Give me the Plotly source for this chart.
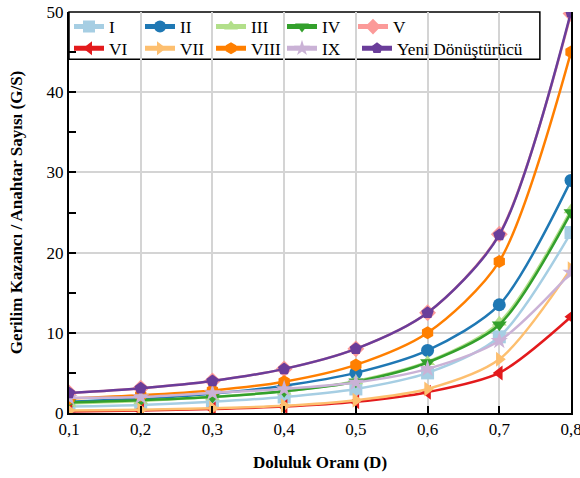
import plotly.graph_objects as go

D = [0.1, 0.2, 0.3, 0.4, 0.5, 0.6, 0.7, 0.8]

names = ["I", "II", "III", "IV", "V", "VI", "VII", "VIII", "IX", "Yeni Dönüştürücü"]

s_I    = [0.8, 1.0, 1.4, 2.0, 3.0, 5.0, 9.5, 22.5]
s_II   = [1.4, 1.8, 2.4, 3.4, 5.0, 7.8, 13.5, 29.0]
s_III  = [1.2, 1.5, 2.0, 2.7, 4.0, 6.4, 11.3, 25.3]
s_IV   = [1.3, 1.6, 2.0, 2.7, 3.9, 6.3, 11.0, 25.0]
s_V    = [2.5, 3.1, 4.0, 5.5, 8.0, 12.5, 22.3, 49.8]
s_VI   = [0.2, 0.3, 0.5, 0.8, 1.4, 2.6, 5.0, 12.0]
s_VII  = [0.3, 0.4, 0.6, 0.9, 1.6, 3.0, 6.7, 18.0]
s_VIII = [1.8, 2.2, 2.8, 3.9, 6.0, 10.0, 18.9, 45.0]
s_IX   = [1.9, 2.0, 2.5, 3.0, 3.8, 5.5, 9.0, 17.5]
s_Yeni = [2.5, 3.1, 4.0, 5.5, 8.0, 12.5, 22.2, 50.0]

values = [s_I, s_II, s_III, s_IV, s_V, s_VI, s_VII, s_VIII, s_IX, s_Yeni]
colors = ["#a6cee3", "#1f78b4", "#b2df8a", "#33a02c", "#fb9a99",
          "#e31a1c", "#fdbf6f", "#ff7f00", "#cab2d6", "#6a3d9a"]
symbols = ["square", "circle", "triangle-up", "triangle-down", "diamond",
           "triangle-left", "triangle-right", "hexagon", "star", "pentagon"]
legend_ids = ["legend"] * 5 + ["legend2"] * 4 + ["legend3"]

FONT = "Liberation Serif, Times New Roman, serif"
FS = 17

fig = go.Figure()
for n, v, c, s, lg in zip(names, values, colors, symbols, legend_ids):
    fig.add_trace(go.Scatter(
        x=D, y=v, name=n, mode="lines+markers",
        line=dict(color=c, width=2.5, shape="spline", smoothing=0.8),
        marker=dict(symbol=s, size=13, color=c, line=dict(width=0)),
        legend=lg,
    ))

def leg(x, y, ew=26):
    return dict(orientation="h", xref="paper", yref="paper", x=x, xanchor="left",
                y=y, yanchor="middle", bgcolor="rgba(0,0,0,0)", borderwidth=0,
                font=dict(family=FONT, size=17.3, color="black"), entrywidth=ew,
                itemsizing="constant", tracegroupgap=0)

fig.update_layout(
    width=580, height=478,
    margin=dict(l=69, r=9, t=12, b=65, autoexpand=False),
    paper_bgcolor="white", plot_bgcolor="white",
    separators=",.",
    font=dict(family=FONT, size=FS, color="black"),
    showlegend=True,
    legend=leg(0.0, 0.963),
    legend2=leg(0.0, 0.909),
    legend3=leg(0.5737, 0.909, ew=0),
    shapes=[dict(type="rect", xref="paper", yref="paper", x0=0, x1=0.938, y0=0.882, y1=1.0,
                 line=dict(color="black", width=1.5), fillcolor="white", layer="between")],
    xaxis=dict(
        range=[0.1, 0.8], dtick=0.1, tick0=0.1, tickformat=".1f", automargin=False,
        ticklabeloverflow="allow",
        showgrid=True, gridcolor="#d4d4d4", gridwidth=1.5,
        showline=True, linecolor="black", linewidth=2, mirror=False,
        ticks="inside", ticklen=7, tickcolor="black", tickwidth=1.5,
        zeroline=False,
        tickfont=dict(family=FONT, size=FS),
        title=dict(text="<b>Doluluk Oranı (D)</b>", font=dict(family=FONT, size=FS), standoff=18),
    ),
    yaxis=dict(
        range=[0, 50], dtick=10, automargin=False,
        showgrid=True, gridcolor="#d4d4d4", gridwidth=1.5,
        showline=True, linecolor="black", linewidth=2, mirror=True,
        ticks="inside", ticklen=7, tickcolor="black", tickwidth=1.5,
        minor=dict(dtick=5, ticks="inside", ticklen=7, tickcolor="black", tickwidth=1.5, showgrid=False),
        zeroline=False,
        tickfont=dict(family=FONT, size=FS),
        title=dict(text="<b>Gerilim Kazancı / Anahtar Sayısı (G/S)</b>", font=dict(family=FONT, size=FS), standoff=20),
    ),
)

fig.write_html("out.html", config={"displayModeBar": False},
               post_script="document.body.style.margin='0';document.body.style.overflow='hidden';")
